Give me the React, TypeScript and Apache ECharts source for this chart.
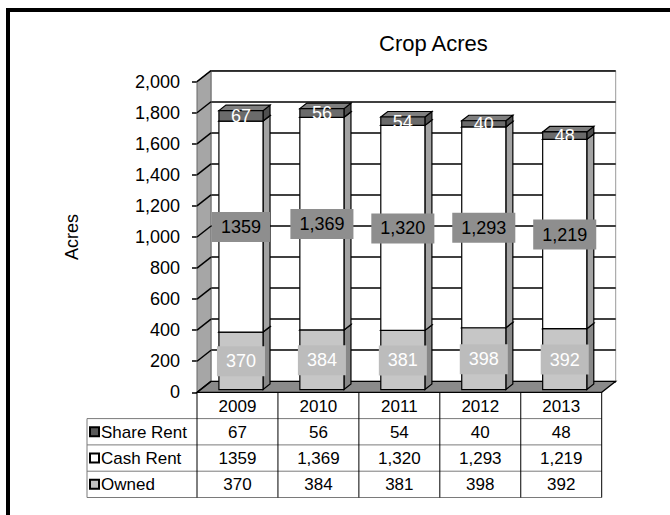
import React, { useEffect, useRef } from "react";
import * as echarts from "echarts";

// ---------- data ----------
const categories = ["2009", "2010", "2011", "2012", "2013"];
const owned = [370, 384, 381, 398, 392];
const cashRent = [1359, 1369, 1320, 1293, 1219];
const shareRent = [67, 56, 54, 40, 48];
const ownedLabels = ["370", "384", "381", "398", "392"];
const cashRentLabels = ["1359", "1,369", "1,320", "1,293", "1,219"];
const shareRentLabels = ["67", "56", "54", "40", "48"];
const Y_MIN = 0;
const Y_MAX = 2000;
const Y_STEP = 200;

// ---------- layout / style ----------
const FONT = '"Liberation Sans", Arial, sans-serif';
const GL = 197;
const GT = 81.7;
const GW = 404.7;
const GH = 310.6;
const DX = 14;
const DY = -11;
const F0 = 0.25;
const F1 = 0.75;
const BAR_RATIO = 0.545;

const yTicks: number[] = [];
for (let v = Y_MIN; v <= Y_MAX; v += Y_STEP) yTicks.push(v);

const fmt = (v: number) => v.toLocaleString("en-US");

function stackData(vals: number[], bases: number[]) {
  return vals.map((v, i) => [i, bases[i], bases[i] + v]);
}
const base0 = owned.map(() => 0);
const base1 = owned.map((v) => v);
const base2 = owned.map((v, i) => v + cashRent[i]);

function makeBarRender(
  front: string,
  side: string,
  top: string,
  labels: string[],
  labelColor: string,
  labelBg: string | null
) {
  return (params: any, api: any) => {
    const i = api.value(0);
    const b = api.value(1);
    const t = api.value(2);
    const pb = api.coord([i, b]);
    const pt = api.coord([i, t]);
    const band = api.size([1, 0])[0];
    const bw = band * BAR_RATIO;
    const fx = DX * F0;
    const fy = DY * F0;
    const ddx = DX * (F1 - F0);
    const ddy = DY * (F1 - F0);
    const x0 = pb[0] - bw / 2 + fx;
    const x1 = x0 + bw;
    const yb = pb[1] + fy;
    const yt = pt[1] + fy;
    const stroke = { stroke: "#000", lineWidth: 1.2 };
    const children: any[] = [
      {
        type: "polygon",
        shape: { points: [[x1, yb], [x1 + ddx, yb + ddy], [x1 + ddx, yt + ddy], [x1, yt]] },
        style: { fill: side, ...stroke },
      },
      {
        type: "polygon",
        shape: { points: [[x0, yt], [x1, yt], [x1 + ddx, yt + ddy], [x0 + ddx, yt + ddy]] },
        style: { fill: top, ...stroke },
      },
      {
        type: "rect",
        shape: { x: x0, y: yt, width: bw, height: yb - yt },
        style: { fill: front, ...stroke },
      },
    ];
    const labelStyle: any = {
      text: labels[params.dataIndex],
      x: (x0 + x1) / 2,
      y: (yb + yt) / 2 + 0.5,
      align: "center",
      verticalAlign: "middle",
      fill: labelColor,
      font: `18px ${FONT}`,
    };
    if (labelBg) {
      labelStyle.backgroundColor = labelBg;
      labelStyle.padding = [6, 9, 6, 9];
    }
    children.push({ type: "text", style: labelStyle, z2: 10 });
    return { type: "group", children };
  };
}

function frameRender(params: any, api: any) {
  const cs = params.coordSys;
  const x = cs.x;
  const y = cs.y;
  const w = cs.width;
  const h = cs.height;
  const children: any[] = [
    {
      type: "polygon",
      shape: { points: [[x, y], [x + DX, y + DY], [x + DX, y + h + DY], [x, y + h]] },
      style: { fill: "#a6a6a6", stroke: "#666", lineWidth: 1 },
    },
    {
      type: "polygon",
      shape: { points: [[x, y + h], [x + w, y + h], [x + w + DX, y + h + DY], [x + DX, y + h + DY]] },
      style: { fill: "#8a8a8a", stroke: "#000", lineWidth: 1.2 },
    },
  ];
  yTicks.forEach((v) => {
    const py = api.coord([0, v])[1];
    children.push({
      type: "line",
      shape: { x1: x, y1: py, x2: x + DX, y2: py + DY },
      style: { stroke: "#000", lineWidth: 1.5 },
    });
  });
  return { type: "group", children };
}

// ---------- table ----------
const band = GW / categories.length;
const T_TOP = GT + GH;
const ROW_H = 26.3;
const LABEL_X = 87;
const tableRows = [
  { name: "Share Rent", labels: shareRentLabels, key: "#595959" },
  { name: "Cash Rent", labels: cashRentLabels, key: "#ffffff" },
  { name: "Owned", labels: ownedLabels, key: "#c0c0c0" },
];

function buildTable() {
  const els: any[] = [];
  const bottom = T_TOP + ROW_H * 4;
  for (let r = 1; r <= 4; r++) {
    const yy = T_TOP + ROW_H * r;
    els.push({
      type: "line",
      shape: { x1: LABEL_X, y1: yy, x2: GL + GW, y2: yy },
      style: { stroke: "#7a7a7a", lineWidth: 1 },
    });
  }
  els.push({
    type: "line",
    shape: { x1: LABEL_X, y1: T_TOP + ROW_H, x2: LABEL_X, y2: bottom },
    style: { stroke: "#7a7a7a", lineWidth: 1 },
  });
  for (let c = 0; c <= categories.length; c++) {
    const xx = GL + band * c;
    els.push({
      type: "line",
      shape: { x1: xx, y1: T_TOP, x2: xx, y2: bottom },
      style: { stroke: "#000", lineWidth: 1 },
    });
  }
  categories.forEach((c, i) => {
    els.push({
      type: "text",
      style: {
        text: c,
        x: GL + band * (i + 0.5),
        y: T_TOP + ROW_H / 2 + 1.5,
        align: "center",
        verticalAlign: "middle",
        fill: "#000",
        font: `17px ${FONT}`,
      },
    });
  });
  tableRows.forEach((row, r) => {
    const cy = T_TOP + ROW_H * (r + 1.5);
    els.push({
      type: "rect",
      shape: { x: 90, y: cy - 4.5, width: 9, height: 9 },
      style: { fill: row.key, stroke: "#000", lineWidth: 2 },
    });
    els.push({
      type: "text",
      style: {
        text: row.name,
        x: 101,
        y: cy + 0.5,
        align: "left",
        verticalAlign: "middle",
        fill: "#000",
        font: `17px ${FONT}`,
      },
    });
    row.labels.forEach((lab, i) => {
      els.push({
        type: "text",
        style: {
          text: lab,
          x: GL + band * (i + 0.5),
          y: cy + 0.5,
          align: "center",
          verticalAlign: "middle",
          fill: "#000",
          font: `17px ${FONT}`,
        },
      });
    });
  });
  return els;
}

const option: any = {
  animation: false,
  backgroundColor: "#fff",
  title: {
    text: "Crop Acres",
    left: 374,
    top: 27,
    textStyle: { fontSize: 22, fontWeight: "normal", color: "#000", fontFamily: FONT },
  },
  grid: [
    { left: GL, top: GT, width: GW, height: GH },
    {
      left: GL + DX,
      top: GT + DY,
      width: GW,
      height: GH,
      show: true,
      backgroundColor: "#fff",
      borderColor: "#9a9a9a",
      borderWidth: 1,
    },
  ],
  xAxis: [
    { type: "category", gridIndex: 0, data: categories, show: false },
    { type: "category", gridIndex: 1, data: categories, show: false },
  ],
  yAxis: [
    {
      type: "value",
      gridIndex: 0,
      min: Y_MIN,
      max: Y_MAX,
      interval: Y_STEP,
      name: "Acres",
      nameLocation: "middle",
      nameGap: 116,
      nameRotate: 90,
      nameTextStyle: { fontSize: 18, color: "#000", fontFamily: FONT },
      axisLine: { show: true, lineStyle: { color: "#666", width: 1 } },
      axisTick: { show: true, length: 5, lineStyle: { color: "#000", width: 1.5 } },
      axisLabel: { margin: 17, fontSize: 18, color: "#000", fontFamily: FONT, formatter: (v: number) => fmt(v) },
      splitLine: { show: false },
    },
    {
      type: "value",
      gridIndex: 1,
      min: Y_MIN,
      max: Y_MAX,
      interval: Y_STEP,
      axisLine: { show: false },
      axisTick: { show: false },
      axisLabel: { show: false },
      splitLine: { show: true, lineStyle: { color: "#000", width: 1.5 } },
    },
  ],
  series: [
    {
      type: "custom",
      name: "frame",
      xAxisIndex: 0,
      yAxisIndex: 0,
      z: 1,
      silent: true,
      clip: false,
      data: [[0, 0]],
      renderItem: frameRender,
    },
    {
      type: "custom",
      name: "Owned",
      xAxisIndex: 0,
      yAxisIndex: 0,
      z: 3,
      clip: false,
      encode: { x: 0, y: [1, 2] },
      data: stackData(owned, base0),
      renderItem: makeBarRender("#c6c6c6", "#888888", "#b0b0b0", ownedLabels, "#fff", "#bcbcbc"),
    },
    {
      type: "custom",
      name: "Cash Rent",
      xAxisIndex: 0,
      yAxisIndex: 0,
      z: 3,
      clip: false,
      encode: { x: 0, y: [1, 2] },
      data: stackData(cashRent, base1),
      renderItem: makeBarRender("#ffffff", "#a3a3a3", "#e0e0e0", cashRentLabels, "#000", "#8e8e8e"),
    },
    {
      type: "custom",
      name: "Share Rent",
      xAxisIndex: 0,
      yAxisIndex: 0,
      z: 3,
      clip: false,
      encode: { x: 0, y: [1, 2] },
      data: stackData(shareRent, base2),
      renderItem: makeBarRender("#6b6b6b", "#4f4f4f", "#7f7f7f", shareRentLabels, "#fff", null),
    },
  ],
  graphic: [
    {
      type: "rect",
      shape: { x: 8, y: 10, width: 720, height: 620 },
      style: { fill: "none", stroke: "#000", lineWidth: 4 },
      silent: true,
      z: 0,
    },
    { type: "group", children: buildTable() },
  ],
};

export default function App() {
  const ref = useRef<HTMLDivElement>(null);
  useEffect(() => {
    const chart = echarts.init(ref.current!, null, { renderer: "svg" });
    chart.setOption(option);
    return () => chart.dispose();
  }, []);
  return (
    <div
      ref={ref}
      style={{ position: "absolute", left: 0, top: 0, width: 670, height: 515, background: "#fff" }}
    />
  );
}
